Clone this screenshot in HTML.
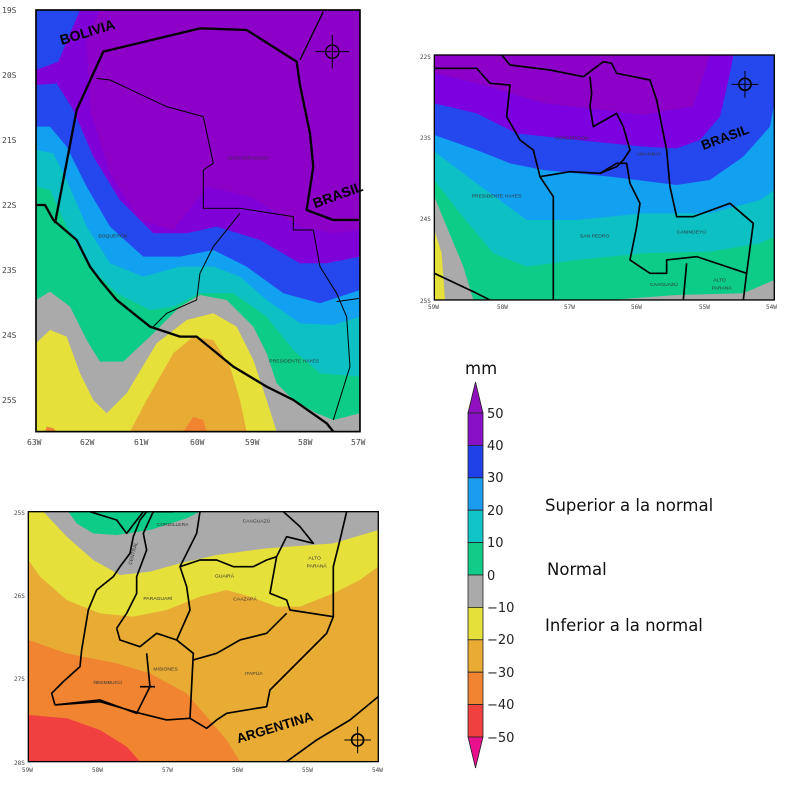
<!DOCTYPE html>
<html><head><meta charset="utf-8"><style>
html,body{margin:0;padding:0;background:#fff;}
svg{display:block;}
.t{font-family:"DejaVu Sans Mono","Liberation Mono",monospace;font-size:8px;fill:#444;}
.lb{font-family:"Liberation Sans",sans-serif;font-size:5px;fill:#333;}
.cb{font-family:"DejaVu Sans","Liberation Sans",sans-serif;font-size:13px;fill:#222;}
.txt{font-family:"DejaVu Sans","Liberation Sans",sans-serif;font-size:16.5px;fill:#111;}
</style></head><body>
<svg width="800" height="800" viewBox="0 0 800 800" xmlns="http://www.w3.org/2000/svg">
<!-- MAP 1 -->
<g transform="scale(0.3333)">
<clipPath id="c1"><rect x="108" y="30" width="972" height="1265"/></clipPath>
<g clip-path="url(#c1)">
<rect x="108" y="30" width="972" height="1265" fill="#8c00c8"/>
<ellipse cx="690" cy="220" rx="110" ry="195" fill="#7c00e0"/>
<polygon fill="#8000d8" points="108,30 300,30 260,120 270,330 330,520 420,660 520,690 620,560 750,590 900,680 1000,700 1080,690 1080,1295 108,1295"/>
<polygon fill="#8c00c8" points="300,30 260,120 270,330 330,520 420,640 520,660 620,540 750,570 900,640 1000,650 1080,640 1080,30"/>
<polygon fill="#2448ee" points="108,30 240,30 210,100 175,185 108,210"/>
<polygon fill="#2448ee" points="108,255 170,250 220,330 280,470 360,600 460,700 560,700 650,680 780,720 900,790 980,790 1080,770 1080,1295 108,1295"/>
<polygon fill="#12a0f0" points="108,380 150,380 200,440 260,560 330,680 430,770 540,770 640,750 740,800 850,880 960,910 1080,870 1080,1295 108,1295"/>
<polygon fill="#0cc0c4" points="108,450 160,460 200,540 260,680 330,790 430,830 540,800 640,800 720,830 800,900 900,970 1000,975 1080,950 1080,1295 108,1295"/>
<polygon fill="#0ccc88" points="108,560 150,570 200,680 260,790 350,880 450,930 520,920 600,880 700,880 800,950 880,1050 960,1120 1080,1130 1080,1295 108,1295"/>
<polygon fill="#aaaaaa" points="108,900 150,875 210,920 260,1020 300,1085 370,1085 450,1010 540,920 600,885 680,900 760,980 800,1060 830,1150 880,1200 950,1240 1000,1260 1080,1240 1080,1295 108,1295"/>
<polygon fill="#e6e03a" points="108,1030 150,990 200,1010 240,1120 280,1200 320,1240 380,1180 470,1030 560,960 640,940 710,980 760,1080 800,1200 830,1295 108,1295"/>
<polygon fill="#e8ac34" points="390,1295 440,1200 520,1060 580,1010 640,1020 690,1100 720,1200 740,1295"/>
<polygon fill="#f08430" points="550,1295 580,1250 610,1260 620,1295"/>
<polygon fill="#f08430" points="135,1295 140,1280 160,1285 170,1295"/>
<g fill="none" stroke="#000" stroke-linejoin="round">
<polyline stroke-width="7" points="165,670 230,330 310,155 600,85 740,90 890,185 900,255 930,400 940,500 920,630 1000,660 1080,660"/>
<polyline stroke-width="4" points="900,180 970,35"/>
<polyline stroke-width="7" points="108,615 135,615 160,660 230,720 270,800 300,840 350,900 400,940 450,980 540,1010 590,1010 700,1100 800,1160 880,1200 980,1270 1000,1295"/>
<polyline stroke-width="3" points="290,235 330,240 500,320 610,350 640,490 610,510 610,625 720,625 880,650 880,690 940,690 960,800 1010,880 1040,950 1050,1100 1000,1260"/>
<polyline stroke-width="3" points="720,640 640,740 600,820 590,900 500,940 460,980"/>
<polyline stroke-width="3" points="1010,905 1080,895"/>
<circle cx="997" cy="155" r="20" stroke-width="4"/>
<path d="M997,105 V205 M947,155 H1047" stroke-width="3"/>
</g>
</g>
<rect x="108" y="30" width="972" height="1265" fill="none" stroke="#000" stroke-width="5"/>
<text x="185" y="135" transform="rotate(-17 185 135)" font-family="Liberation Sans,sans-serif" font-weight="bold" font-size="42" fill="#000">BOLIVIA</text>
<text x="945" y="625" transform="rotate(-20 945 625)" font-family="Liberation Sans,sans-serif" font-weight="bold" font-size="42" fill="#000">BRASIL</text>
<text x="682" y="478" font-family="Liberation Sans,sans-serif" font-size="15" fill="#333">ALTO PARAGUAY</text>
<text x="295" y="712" font-family="Liberation Sans,sans-serif" font-size="15" fill="#333">BOQUERÓN</text>
<text x="808" y="1088" font-family="Liberation Sans,sans-serif" font-size="15" fill="#333">PRESIDENTE HAYES</text>
</g>
<g class="t">
<text x="2" y="13">19S</text><text x="2" y="78">20S</text><text x="2" y="143">21S</text><text x="2" y="208">22S</text><text x="2" y="273">23S</text><text x="2" y="338">24S</text><text x="2" y="403">25S</text>
<text x="27" y="445">63W</text><text x="80" y="445">62W</text><text x="134" y="445">61W</text><text x="190" y="445">60W</text><text x="245" y="445">59W</text><text x="298" y="445">58W</text><text x="351" y="445">57W</text>
</g>

<!-- MAP 2 -->
<g transform="translate(410,40) scale(0.3333)">
<clipPath id="c2"><rect x="73" y="45" width="1020" height="735"/></clipPath>
<g clip-path="url(#c2)">
<rect x="73" y="45" width="1020" height="735" fill="#2448ee"/>
<polygon fill="#8c00c8" points="73,45 900,45 880,110 850,200 700,225 400,190 200,130 73,100"/>
<polygon fill="#7c00e0" points="73,100 200,130 400,190 700,225 850,200 880,110 900,45 970,45 960,100 930,230 870,300 800,325 700,320 500,300 320,280 200,220 73,190"/>
<polygon fill="#12a0f0" points="73,285 200,330 300,370 400,390 600,410 800,435 900,420 1000,350 1080,260 1093,190 1093,780 73,780"/>
<polygon fill="#0cc0c4" points="73,335 200,430 350,540 500,540 700,520 900,520 1050,480 1093,450 1093,780 73,780"/>
<polygon fill="#0ccc88" points="73,420 150,520 250,640 350,680 500,660 700,640 900,635 1050,610 1093,590 1093,780 73,780"/>
<polygon fill="#aaaaaa" points="73,470 110,560 160,680 190,780 73,780"/>
<polygon fill="#aaaaaa" points="600,780 800,765 1000,760 1093,720 1093,780"/>
<polygon fill="#e6e03a" points="73,570 95,640 105,780 73,780"/>
<g fill="none" stroke="#000" stroke-width="5" stroke-linejoin="round">
<polyline points="73,85 200,85 240,130 300,135 290,230 330,300 370,330 390,410 430,470 430,780"/>
<polyline points="275,45 300,75 420,90 520,110 580,65 605,70 620,100 720,120 740,180 770,330 780,440 800,530 850,530 960,490 1030,550 1010,700 1000,780"/>
<polyline points="390,410 480,395 570,400 620,370 650,370 660,430 690,490 680,560 660,660 720,700 770,700 770,660 860,650 1010,700"/>
<polyline points="540,110 545,160 540,200 550,260 620,220 640,260 660,330 640,360 620,380 570,400"/>
<polyline points="73,700 200,760 240,780"/>
<polyline points="820,780 830,670"/>
<circle cx="1005" cy="133" r="18"/>
<path d="M1005,93 V173 M965,133 H1045" stroke-width="3"/>
</g>
</g>
<rect x="73" y="45" width="1020" height="735" fill="none" stroke="#000" stroke-width="4"/>
<text x="880" y="330" transform="rotate(-20 880 330)" font-family="Liberation Sans,sans-serif" font-weight="bold" font-size="40" fill="#000">BRASIL</text>
<g font-family="Liberation Sans,sans-serif" font-size="15" fill="#333">
<text x="435" y="298">CONCEPCIÓN</text><text x="680" y="347">AMAMBAY</text><text x="185" y="472">PRESIDENTE HAYES</text>
<text x="510" y="593">SAN PEDRO</text><text x="800" y="580">CANINDEYÚ</text><text x="720" y="738">CAAGUAZÚ</text><text x="910" y="725">ALTO</text><text x="905" y="748">PARANÁ</text>
</g>
</g>
<g class="t" style="font-size:6px">
<text x="420" y="59">22S</text><text x="420" y="140">23S</text><text x="420" y="221">24S</text><text x="420" y="303">25S</text>
<text x="428" y="309">59W</text><text x="497" y="309">58W</text><text x="564" y="309">57W</text><text x="631" y="309">56W</text><text x="699" y="309">55W</text><text x="766" y="309">54W</text>
</g>

<!-- MAP 3 -->
<g transform="translate(0,500) scale(0.3333)">
<clipPath id="c3"><rect x="85" y="35" width="1050" height="750"/></clipPath>
<g clip-path="url(#c3)">
<rect x="85" y="35" width="1050" height="750" fill="#e6e03a"/>
<polygon fill="#aaaaaa" points="130,35 1135,35 1135,90 1000,130 800,145 650,165 540,190 450,215 360,225 280,180 200,110"/>
<polygon fill="#0ccc88" points="205,35 600,35 560,55 450,90 350,105 280,100 230,70"/>
<polygon fill="#e8ac34" points="85,180 120,230 200,300 300,340 400,350 500,330 600,290 680,270 750,290 830,320 900,320 1000,280 1080,240 1135,200 1135,785 85,785"/>
<polygon fill="#f08430" points="85,420 200,460 350,490 450,520 560,580 620,650 680,720 720,785 85,785"/>
<polygon fill="#f04040" points="85,645 200,655 300,690 380,740 420,785 85,785"/>
<g fill="none" stroke="#000" stroke-width="5" stroke-linejoin="round">
<polyline points="165,615 155,580 190,545 240,500 245,450 265,330 290,270 340,230 360,200 390,160 400,110 420,60 440,35"/>
<polyline points="165,615 300,605 420,640 500,660 570,655 620,685 650,660 680,640 800,620 810,570 900,480 980,400 1000,350 1000,200 1020,120 1040,35"/>
<polyline points="350,385 360,420 420,440 470,400 530,420 580,460 570,655"/>
<polyline points="350,385 380,340 410,280 410,230 440,150 430,100 460,35"/>
<polyline points="530,420 570,330 560,260 540,200 600,180 650,180 700,200 760,200 800,180 830,170 810,280 860,300 870,330 1000,350"/>
<polyline points="580,480 650,460 720,420 800,400 860,340"/>
<polyline points="270,35 350,60 380,100 430,35 520,35"/>
<polyline points="600,35 590,100 560,160 540,200"/>
<polyline points="850,35 900,80 940,130 860,110 830,170"/>
<polyline points="440,460 450,560 410,640 300,600 165,615"/>
<polyline points="465,560 420,560"/>
<polyline points="860,785 950,720 1050,660 1135,590"/>
<circle cx="1073" cy="720" r="18"/>
<path d="M1073,680 V760 M1033,720 H1113" stroke-width="3"/>
</g>
</g>
<rect x="85" y="35" width="1050" height="750" fill="none" stroke="#000" stroke-width="4"/>
<text x="715" y="730" transform="rotate(-17 715 730)" font-family="Liberation Sans,sans-serif" font-weight="bold" font-size="40" fill="#000">ARGENTINA</text>
<g font-family="Liberation Sans,sans-serif" font-size="15" fill="#333">
<text x="470" y="78">CORDILLERA</text><text x="728" y="68">CAAGUAZÚ</text><text x="645" y="232">GUAIRÁ</text><text x="430" y="300">PARAGUARÍ</text>
<text x="700" y="302">CAAZAPÁ</text><text x="925" y="178">ALTO</text><text x="920" y="202">PARANÁ</text><text x="460" y="512">MISIONES</text>
<text x="735" y="525">ITAPÚA</text><text x="280" y="552">ÑEEMBUCÚ</text>
<text x="395" y="195" transform="rotate(-75 395 195)">CENTRAL</text>
</g>
</g>
<g class="t" style="font-size:6px">
<text x="14" y="515">25S</text><text x="14" y="598">26S</text><text x="14" y="681">27S</text><text x="14" y="765">28S</text>
<text x="22" y="772">59W</text><text x="92" y="772">58W</text><text x="162" y="772">57W</text><text x="232" y="772">56W</text><text x="302" y="772">55W</text><text x="372" y="772">54W</text>
</g>

<!-- COLORBAR -->
<g stroke="#222" stroke-width="0.8">
<polygon points="475.5,382 468,413 483,413" fill="#9010c0"/>
<rect x="468" y="413" width="15" height="32.4" fill="#8a10c8"/>
<rect x="468" y="445.4" width="15" height="32.4" fill="#2040e8"/>
<rect x="468" y="477.8" width="15" height="32.4" fill="#1c9cf0"/>
<rect x="468" y="510.2" width="15" height="32.4" fill="#10c4c8"/>
<rect x="468" y="542.6" width="15" height="32.4" fill="#10cc88"/>
<rect x="468" y="575" width="15" height="32.4" fill="#aaaaaa"/>
<rect x="468" y="607.4" width="15" height="32.4" fill="#e6e03a"/>
<rect x="468" y="639.8" width="15" height="32.4" fill="#e8ac34"/>
<rect x="468" y="672.2" width="15" height="32.4" fill="#f08430"/>
<rect x="468" y="704.6" width="15" height="32.4" fill="#f04040"/>
<polygon points="468,737 483,737 475.5,768" fill="#e8108c"/>
</g>
<text x="465" y="374" class="txt">mm</text>
<g class="cb">
<text x="487" y="418">50</text><text x="487" y="450">40</text><text x="487" y="482">30</text><text x="487" y="515">20</text><text x="487" y="547">10</text>
<text x="487" y="580">0</text><text x="487" y="612">−10</text><text x="487" y="644">−20</text><text x="487" y="677">−30</text><text x="487" y="709">−40</text><text x="487" y="742">−50</text>
</g>
<text x="545" y="511" class="txt">Superior a la normal</text>
<text x="547" y="575" class="txt">Normal</text>
<text x="545" y="631" class="txt">Inferior a la normal</text>
</svg>
</body></html>
